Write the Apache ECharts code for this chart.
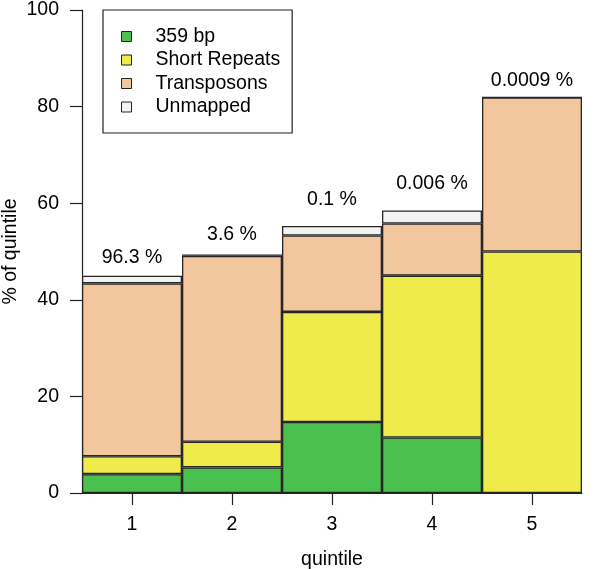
<!DOCTYPE html>
<html>
<head>
<meta charset="utf-8">
<script src="https://cdn.jsdelivr.net/npm/echarts@6/dist/echarts.min.js"></script>
<style>
  html, body { margin: 0; padding: 0; background: #fff; }
  #chart { width: 600px; height: 569px; }
</style>
</head>
<body>
<div id="chart"></div>
<script>
const categories = ['1', '2', '3', '4', '5'];
const seriesNames = ['359 bp', 'Short Repeats', 'Transposons', 'Unmapped'];
const bp359 = [3.9, 5.3, 14.7, 11.5, 0];
const shortRepeats = [3.7, 5.3, 22.8, 33.5, 50.0];
const transposons = [35.8, 38.5, 15.8, 10.8, 31.9];
const unmapped = [1.6, 0.3, 2.0, 2.7, 0];
const topLabels = ['96.3 %', '3.6 %', '0.1 %', '0.006 %', '0.0009 %'];
const labelY = [46.7, 51.5, 58.6, 62.0, 83.4];
const yTicks = [0, 20, 40, 60, 80, 100];

const colors = ['#4cc04e', '#eeeb4b', '#f2c79e', '#f3f3f3'];
const FONT = "'Liberation Sans', Arial, Helvetica, sans-serif";
const FS = 19.5;
const chart = echarts.init(document.getElementById('chart'), null, { renderer: 'canvas' });

const segs = [bp359, shortRepeats, transposons, unmapped];
const barSeries = segs.map((d, i) => ({
  name: seriesNames[i],
  type: 'bar',
  stack: 'total',
  data: d,
  barCategoryGap: '0%',
  barWidth: '100%',
  itemStyle: { color: colors[i], borderColor: '#262626', borderWidth: 1.3 },
  emphasis: { disabled: true },
  silent: true,
  z: 2
}));

chart.setOption({
  animation: false,
  backgroundColor: '#fff',
  textStyle: { fontFamily: FONT },
  grid: { left: 82, right: 18, top: 10, bottom: 76, containLabel: false, outerBoundsMode: 'none' },
  legend: {
    data: seriesNames,
    orient: 'vertical',
    left: 103,
    top: 10,
    padding: [16.5, 12, 16, 18],
    itemGap: 3.5,
    itemWidth: 10,
    itemHeight: 10,
    icon: 'rect',
    borderColor: '#222',
    borderWidth: 1.2,
    borderRadius: 0,
    backgroundColor: '#fff',
    itemStyle: { borderColor: '#222', borderWidth: 1 },
    textStyle: { fontFamily: FONT, fontSize: FS, color: '#000', lineHeight: 20, padding: [0, 0, 0, 19] },
    selectedMode: false,
    z: 10
  },
  xAxis: {
    type: 'category',
    data: categories,
    name: 'quintile',
    nameLocation: 'middle',
    nameGap: 57,
    nameMoveOverlap: false,
    nameTextStyle: { fontFamily: FONT, fontSize: FS, color: '#000' },
    axisLine: { show: true, lineStyle: { color: '#222', width: 1.2 } },
    axisTick: { show: true, alignWithLabel: true, length: 12, lineStyle: { color: '#222', width: 1.2 } },
    axisLabel: { fontFamily: FONT, fontSize: FS, color: '#000', margin: 22 },
    splitLine: { show: false }
  },
  yAxis: {
    type: 'value',
    min: 0,
    max: 100,
    interval: 20,
    name: '% of quintile',
    nameLocation: 'middle',
    nameRotate: 90,
    nameGap: 61,
    nameMoveOverlap: false,
    nameTextStyle: { fontFamily: FONT, fontSize: FS, color: '#000' },
    axisLine: { show: true, lineStyle: { color: '#222', width: 1.2 } },
    axisTick: { show: true, inside: false, length: 12, lineStyle: { color: '#222', width: 1.2 } },
    axisLabel: { fontFamily: FONT, fontSize: FS, color: '#000', margin: 23,
      formatter: v => yTicks.includes(v) ? String(v) : '' },
    splitLine: { show: false }
  },
  series: barSeries.concat([{
    name: 'labels',
    type: 'scatter',
    data: labelY.map((v, i) => ({ value: [categories[i], v], name: topLabels[i] })),
    symbolSize: 0,
    itemStyle: { color: '#000', opacity: 1 },
    silent: true,
    emphasis: { disabled: true },
    label: {
      show: true,
      position: 'top',
      distance: 0,
      formatter: p => p.name,
      fontFamily: FONT,
      fontSize: FS,
      color: '#000',
      opacity: 1
    },
    z: 5
  }])
});
</script>
</body>
</html>
